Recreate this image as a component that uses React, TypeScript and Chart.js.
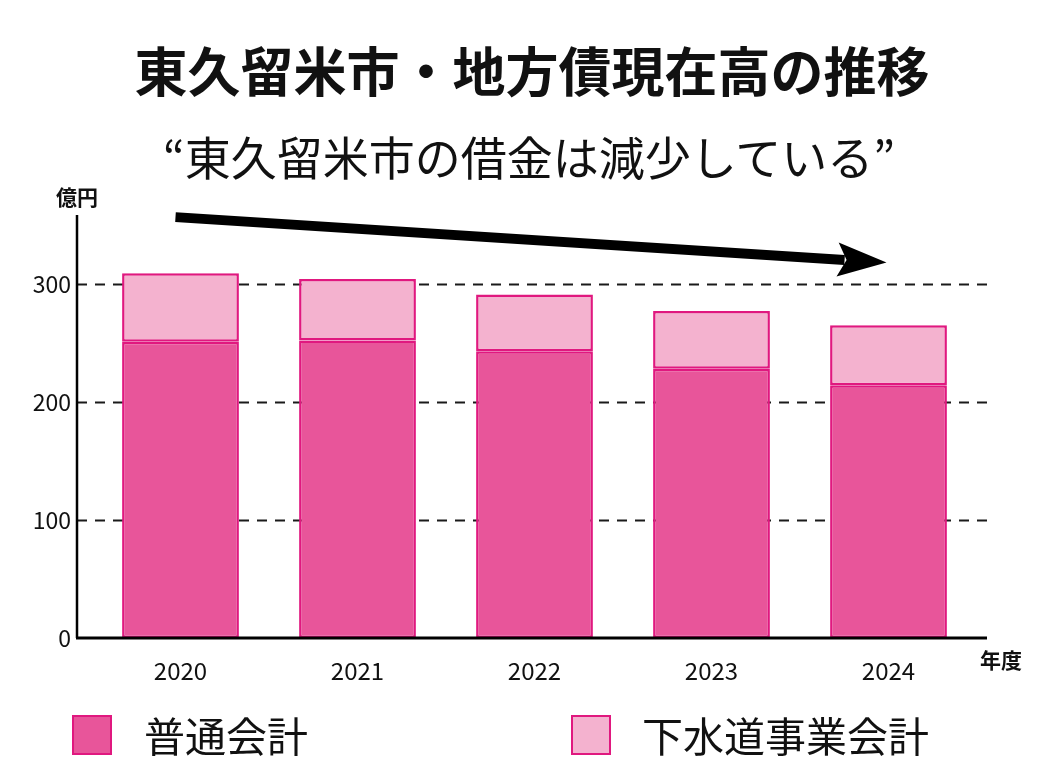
import React, { useEffect, useRef } from "react";
import { Chart, registerables } from "chart.js";

Chart.register(...registerables);

// 地方債現在高（億円）
const years = ["2020", "2021", "2022", "2023", "2024"];
const generalAccount = [251, 252, 243, 228, 214]; // 普通会計
const sewerAccount = [58, 52, 48, 49, 51]; // 下水道事業会計
const yTicks = [0, 100, 200, 300];
const gridTicks = [100, 200, 300];
// trend arrow: from (index, value) to (index, value)
const arrowFrom = [0, 356.5];
const arrowTo = [4, 318];

const FONT = '"Noto Sans CJK JP", "Noto Sans", sans-serif';
const DARK_PINK = "#e8559a";
const LIGHT_PINK = "#f4b2cf";
const BORDER_PINK = "#e0187f";

const axesPlugin = {
  id: "axesDeco",
  beforeDatasetsDraw(chart: Chart) {
    const ctx = chart.ctx;
    const area = chart.chartArea;
    const y = chart.scales.y;
    const axisX = area.left - 15;
    ctx.save();
    ctx.strokeStyle = "#1a1a1a";
    ctx.lineWidth = 2;
    ctx.setLineDash([10, 8]);
    gridTicks.forEach((v) => {
      const py = Math.round(y.getPixelForValue(v)) + 0.5;
      ctx.beginPath();
      ctx.moveTo(axisX, py);
      ctx.lineTo(area.right + 10, py);
      ctx.stroke();
    });
    ctx.restore();
  },
  afterDatasetsDraw(chart: Chart) {
    const ctx = chart.ctx;
    const area = chart.chartArea;
    const x = chart.scales.x;
    const y = chart.scales.y;
    const axisX = area.left - 15;
    const zeroY = y.getPixelForValue(0);
    ctx.save();

    // axes
    ctx.strokeStyle = "#000";
    ctx.lineWidth = 2.5;
    ctx.beginPath();
    ctx.moveTo(axisX, area.top + 2);
    ctx.lineTo(axisX, zeroY);
    ctx.stroke();
    ctx.lineWidth = 3;
    ctx.beginPath();
    ctx.moveTo(axisX - 1, zeroY);
    ctx.lineTo(area.right + 10, zeroY);
    ctx.stroke();

    // y tick labels
    ctx.fillStyle = "#111";
    ctx.font = `23px ${FONT}`;
    ctx.textAlign = "right";
    ctx.textBaseline = "middle";
    yTicks.forEach((v) => {
      ctx.fillText(String(v), axisX - 6, y.getPixelForValue(v));
    });

    // x tick labels
    ctx.textAlign = "center";
    ctx.font = `24px ${FONT}`;
    years.forEach((label, i) => {
      ctx.fillText(label, x.getPixelForValue(i), zeroY + 33);
    });

    // unit labels
    ctx.font = `bold 21px ${FONT}`;
    ctx.fillText("億円", axisX, area.top - 16);
    ctx.fillText("年度", area.right + 24, zeroY + 22);

    // trend arrow
    const x0 = x.getPixelForValue(arrowFrom[0]) - 5;
    const y0 = y.getPixelForValue(arrowFrom[1]);
    const x1 = x.getPixelForValue(arrowTo[0]) - 2;
    const y1 = y.getPixelForValue(arrowTo[1]);
    const ang = Math.atan2(y1 - y0, x1 - x0);
    const headLen = 46;
    const headHalf = 17;
    const bx = x1 - headLen * Math.cos(ang);
    const by = y1 - headLen * Math.sin(ang);
    ctx.strokeStyle = "#000";
    ctx.lineWidth = 10;
    ctx.lineCap = "butt";
    ctx.beginPath();
    ctx.moveTo(x0, y0);
    ctx.lineTo(bx + 4 * Math.cos(ang), by + 4 * Math.sin(ang));
    ctx.stroke();
    ctx.fillStyle = "#000";
    ctx.beginPath();
    ctx.moveTo(x1, y1);
    ctx.lineTo(bx - headHalf * Math.sin(ang) - 3 * Math.cos(ang), by + headHalf * Math.cos(ang) - 3 * Math.sin(ang));
    ctx.lineTo(bx + 6 * Math.cos(ang), by + 6 * Math.sin(ang));
    ctx.lineTo(bx + headHalf * Math.sin(ang) - 3 * Math.cos(ang), by - headHalf * Math.cos(ang) - 3 * Math.sin(ang));
    ctx.closePath();
    ctx.fill();

    ctx.restore();
  },
};

const DebtChart: React.FC = () => {
  const canvasRef = useRef<HTMLCanvasElement | null>(null);
  const chartRef = useRef<Chart | null>(null);

  useEffect(() => {
    if (!canvasRef.current) return;
    chartRef.current = new Chart(canvasRef.current, {
      type: "bar",
      data: {
        labels: years,
        datasets: [
          {
            label: "普通会計",
            data: generalAccount,
            backgroundColor: DARK_PINK,
            borderColor: BORDER_PINK,
            borderWidth: 2.5,
            borderSkipped: false,
          },
          {
            label: "下水道事業会計",
            data: sewerAccount,
            backgroundColor: LIGHT_PINK,
            borderColor: BORDER_PINK,
            borderWidth: 2.5,
            borderSkipped: false,
          },
        ],
      },
      options: {
        responsive: false,
        animation: false,
        devicePixelRatio: 1,
        layout: { padding: { left: 84, right: 65, top: 205, bottom: 134 } },
        datasets: { bar: { categoryPercentage: 1, barPercentage: 0.66 } },
        scales: {
          x: { stacked: true, display: false },
          y: { stacked: true, display: false, min: 0, max: 360 },
        },
        plugins: {
          legend: { display: false },
          tooltip: { enabled: false },
        },
      },
      plugins: [axesPlugin],
    });
    return () => {
      chartRef.current?.destroy();
      chartRef.current = null;
    };
  }, []);

  return (
    <canvas
      ref={canvasRef}
      width={1034}
      height={764}
      style={{ position: "absolute", left: 0, top: 0 }}
    />
  );
};

const legendItems = [
  { label: "普通会計", color: DARK_PINK, left: 64, textLeft: 136 },
  { label: "下水道事業会計", color: LIGHT_PINK, left: 563, textLeft: 634 },
];

export default function App() {
  return (
    <div
      style={{
        position: "relative",
        width: 1034,
        height: 764,
        background: "#fff",
        fontFamily: FONT,
        color: "#111",
      }}
    >
      <DebtChart />
      <div
        style={{
          position: "absolute",
          top: 30,
          left: 7,
          width: 1034,
          textAlign: "center",
          fontSize: 53,
          fontWeight: "bold",
          lineHeight: "62px",
        }}
      >
        東久留米市・地方債現在高の推移
      </div>
      <div
        style={{
          position: "absolute",
          top: 120,
          left: 4,
          width: 1034,
          textAlign: "center",
          fontSize: 46,
          lineHeight: "54px",
        }}
      >
        “東久留米市の借金は減少している”
      </div>
      {legendItems.map((item) => (
        <React.Fragment key={item.label}>
          <div
            style={{
              position: "absolute",
              left: item.left,
              top: 707,
              width: 36,
              height: 36,
              background: item.color,
              border: `2px solid ${BORDER_PINK}`,
            }}
          />
          <div
            style={{
              position: "absolute",
              left: item.textLeft,
              top: 702,
              fontSize: 41,
              lineHeight: "48px",
              whiteSpace: "nowrap",
            }}
          >
            {item.label}
          </div>
        </React.Fragment>
      ))}
    </div>
  );
}
